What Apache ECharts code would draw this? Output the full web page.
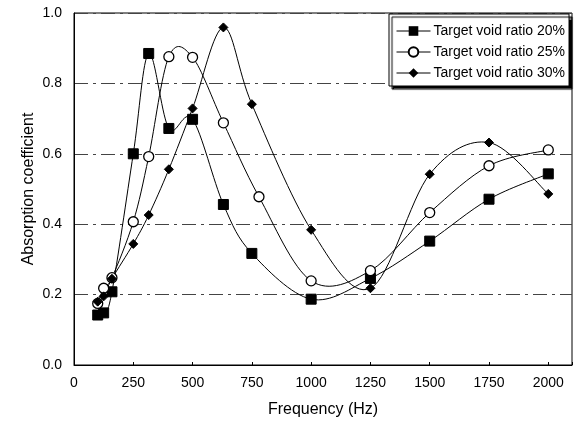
<!DOCTYPE html>
<html>
<head>
<meta charset="utf-8">
<script src="https://cdn.jsdelivr.net/npm/echarts@6/dist/echarts.min.js"></script>
<style>
html,body{margin:0;padding:0;background:#fff;}
#chart{width:581px;height:430px;}
</style>
</head>
<body>
<div id="chart"></div>
<script>
// Data
const seriesNames = ['Target void ratio 20%', 'Target void ratio 25%', 'Target void ratio 30%'];
const freq20 = [100, 125, 160, 250, 315, 400, 500, 630, 750, 1000, 1250, 1500, 1750, 2000];
const vals20 = [0.142, 0.148, 0.208, 0.600, 0.885, 0.672, 0.698, 0.456, 0.317, 0.187, 0.246, 0.352, 0.471, 0.543];
const freq25 = [100, 125, 160, 250, 315, 400, 500, 630, 780, 1000, 1250, 1500, 1750, 2000];
const vals25 = [0.175, 0.218, 0.248, 0.407, 0.592, 0.876, 0.874, 0.688, 0.478, 0.239, 0.268, 0.433, 0.566, 0.611];
const freq30 = [100, 125, 160, 250, 315, 400, 500, 630, 750, 1000, 1250, 1500, 1750, 2000];
const vals30 = [0.180, 0.195, 0.245, 0.344, 0.426, 0.556, 0.729, 0.959, 0.741, 0.384, 0.218, 0.542, 0.632, 0.486];
const xTicks = [0, 250, 500, 750, 1000, 1250, 1500, 1750, 2000];
const yTicks = [0.0, 0.2, 0.4, 0.6, 0.8, 1.0];

const pair = (xs, ys) => xs.map((x, i) => [x, ys[i]]);
const FONT = 'Liberation Sans, Arial, sans-serif';

// Smooth curve (Excel-like cardinal spline) drawn through the axis scales
function curveSeries(id, xs, ys) {
  return {
    type: 'custom', name: id, silent: true, z: 2,
    data: [[xs[0], ys[0]]],
    renderItem: function (params, api) {
      const pts = xs.map((x, i) => api.coord([x, ys[i]]));
      const n = pts.length;
      let d = 'M' + pts[0][0] + ' ' + pts[0][1];
      const t = 1 / 6;
      for (let i = 0; i < n - 1; i++) {
        const p0 = pts[Math.max(i - 1, 0)], p1 = pts[i], p2 = pts[i + 1], p3 = pts[Math.min(i + 2, n - 1)];
        const c1x = p1[0] + (p2[0] - p0[0]) * t, c1y = p1[1] + (p2[1] - p0[1]) * t;
        const c2x = p2[0] - (p3[0] - p1[0]) * t, c2y = p2[1] - (p3[1] - p1[1]) * t;
        d += ' C' + c1x + ' ' + c1y + ' ' + c2x + ' ' + c2y + ' ' + p2[0] + ' ' + p2[1];
      }
      return {type: 'path', shape: {pathData: d}, style: {stroke: '#000', fill: null, lineWidth: 1}};
    }
  };
}

const chart = echarts.init(document.getElementById('chart'), null, {renderer: 'canvas'});

const baseLine = {type: 'line', smooth: false, lineStyle: {color: '#000', width: 1, opacity: 0}, z: 3};

chart.setOption({
  animation: false,
  backgroundColor: '#fff',
  textStyle: {fontFamily: FONT, color: '#000'},
  grid: {left: 74, top: 13, right: 9, bottom: 65, show: true, borderColor: '#000', borderWidth: 1, backgroundColor: 'transparent'},
  legend: {
    orient: 'vertical',
    left: 389, top: 14,
    padding: [10, 4, 6, 7],
    itemGap: 7,
    itemWidth: 34, itemHeight: 12,
    backgroundColor: '#fff',
    borderColor: '#000', borderWidth: 1,
    shadowColor: '#000', shadowBlur: 1, shadowOffsetX: 3, shadowOffsetY: 3,
    lineStyle: {color: '#000', width: 1, opacity: 1, type: 'solid'},
    textStyle: {fontFamily: FONT, fontSize: 14, color: '#000', lineHeight: 14, padding: [0, 0, 0, -2]},
    data: seriesNames
  },
  xAxis: {
    type: 'value', min: 0, max: 2100, interval: 250,
    name: 'Frequency (Hz)', nameLocation: 'middle', nameGap: 37,
    nameTextStyle: {fontFamily: FONT, fontSize: 16, color: '#000'},
    axisLine: {show: true, lineStyle: {color: '#000', width: 1}},
    axisTick: {show: true, inside: true, length: 3, lineStyle: {color: '#000'}},
    axisLabel: {fontFamily: FONT, fontSize: 14, color: '#000', margin: 11,
      formatter: v => (xTicks.indexOf(v) >= 0 ? String(v) : '')},
    splitLine: {show: false}
  },
  yAxis: {
    type: 'value', min: 0, max: 1, interval: 0.2,
    name: 'Absorption coefficient', nameLocation: 'middle', nameGap: 37, nameRotate: 90,
    nameMoveOverlap: false,
    nameTextStyle: {fontFamily: FONT, fontSize: 16, color: '#000'},
    axisLine: {show: true, lineStyle: {color: '#000', width: 1}},
    axisTick: {show: false},
    axisLabel: {fontFamily: FONT, fontSize: 14, color: '#000', margin: 12,
      formatter: v => yTicks.some(t => Math.abs(t - v) < 1e-9) ? v.toFixed(1) : ''},
    splitLine: {show: true, lineStyle: {color: '#444', width: 1, type: [14, 5, 3, 5]}}
  },
  series: [
    curveSeries('_c20', freq20, vals20),
    curveSeries('_c25', freq25, vals25),
    curveSeries('_c30', freq30, vals30),
    Object.assign({}, baseLine, {
      name: seriesNames[0], data: pair(freq20, vals20),
      symbol: 'rect', symbolSize: 10,
      itemStyle: {color: '#000', borderColor: '#000'}
    }),
    Object.assign({}, baseLine, {
      name: seriesNames[1], data: pair(freq25, vals25),
      symbol: 'circle', symbolSize: 10,
      itemStyle: {color: '#fff', borderColor: '#000', borderWidth: 1.3}
    }),
    Object.assign({}, baseLine, {
      name: seriesNames[2], data: pair(freq30, vals30),
      symbol: 'diamond', symbolSize: 9,
      itemStyle: {color: '#000', borderColor: '#000'}
    })
  ]
});
</script>
</body>
</html>
